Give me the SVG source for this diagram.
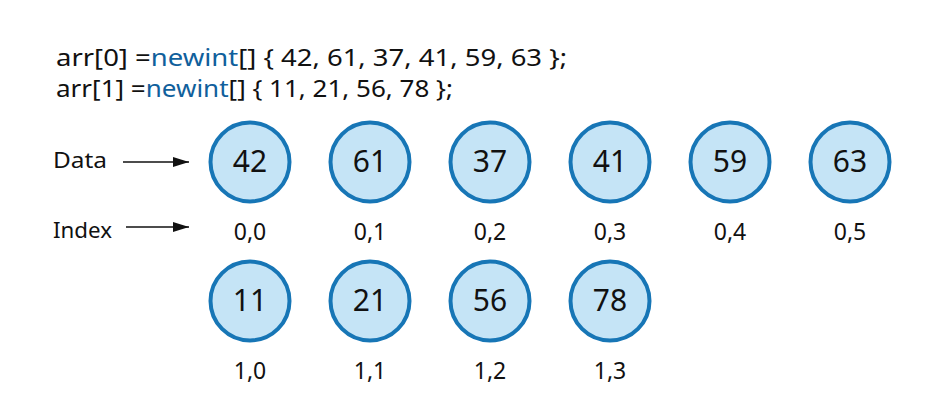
<svg xmlns="http://www.w3.org/2000/svg" width="930" height="415" viewBox="0 0 930 415">
<style>
text{font-family:"Noto Sans","Liberation Sans",sans-serif;fill:#111}
.code{font-size:23px}
.kw{fill:#10609c}
.num{font-size:30px;text-anchor:middle}
.idx{font-size:23px;text-anchor:middle}
.lbl{font-size:22px}
.node circle{fill:#c5e4f6;stroke:#1776b6;stroke-width:4}
.conn line{stroke:#111;stroke-width:1.6}
</style>
<defs>
<marker id="ah" markerWidth="16" markerHeight="10" refX="16" refY="5" orient="auto" markerUnits="userSpaceOnUse">
<path d="M0,0 L16,5 L0,10 Z" fill="#111"/>
</marker>
</defs>
<rect width="930" height="415" fill="#fff"/>
<g id="code">
<text class="code" x="56" y="66" textLength="511" lengthAdjust="spacingAndGlyphs">arr[0] =<tspan class="kw">newint</tspan>[] { 42, 61, 37, 41, 59, 63 };</text>
<text class="code" x="56" y="97" textLength="397" lengthAdjust="spacingAndGlyphs">arr[1] =<tspan class="kw">newint</tspan>[] { 11, 21, 56, 78 };</text>
</g>
<g id="labels">
<text class="lbl" x="53" y="168" textLength="54" lengthAdjust="spacingAndGlyphs">Data</text>
<text class="lbl" x="53" y="238" textLength="59" lengthAdjust="spacingAndGlyphs">Index</text>
</g>
<g class="conn" id="connectors">
<line x1="123" y1="162" x2="189" y2="162" marker-end="url(#ah)"/>
<line x1="126" y1="227" x2="189" y2="227" marker-end="url(#ah)"/>
</g>
<g class="node" id="n00"><circle cx="250" cy="162" r="39.5"/><text class="num" x="250" y="172">42</text><text class="idx" x="250" y="240">0,0</text></g>
<g class="node" id="n01"><circle cx="370" cy="162" r="39.5"/><text class="num" x="370" y="172">61</text><text class="idx" x="370" y="240">0,1</text></g>
<g class="node" id="n02"><circle cx="490" cy="162" r="39.5"/><text class="num" x="490" y="172">37</text><text class="idx" x="490" y="240">0,2</text></g>
<g class="node" id="n03"><circle cx="610" cy="162" r="39.5"/><text class="num" x="610" y="172">41</text><text class="idx" x="610" y="240">0,3</text></g>
<g class="node" id="n04"><circle cx="730" cy="162" r="39.5"/><text class="num" x="730" y="172">59</text><text class="idx" x="730" y="240">0,4</text></g>
<g class="node" id="n05"><circle cx="850" cy="162" r="39.5"/><text class="num" x="850" y="172">63</text><text class="idx" x="850" y="240">0,5</text></g>
<g class="node" id="n10"><circle cx="250" cy="301" r="39.5"/><text class="num" x="250" y="311">11</text><text class="idx" x="250" y="379">1,0</text></g>
<g class="node" id="n11"><circle cx="370" cy="301" r="39.5"/><text class="num" x="370" y="311">21</text><text class="idx" x="370" y="379">1,1</text></g>
<g class="node" id="n12"><circle cx="490" cy="301" r="39.5"/><text class="num" x="490" y="311">56</text><text class="idx" x="490" y="379">1,2</text></g>
<g class="node" id="n13"><circle cx="610" cy="301" r="39.5"/><text class="num" x="610" y="311">78</text><text class="idx" x="610" y="379">1,3</text></g>
</svg>
